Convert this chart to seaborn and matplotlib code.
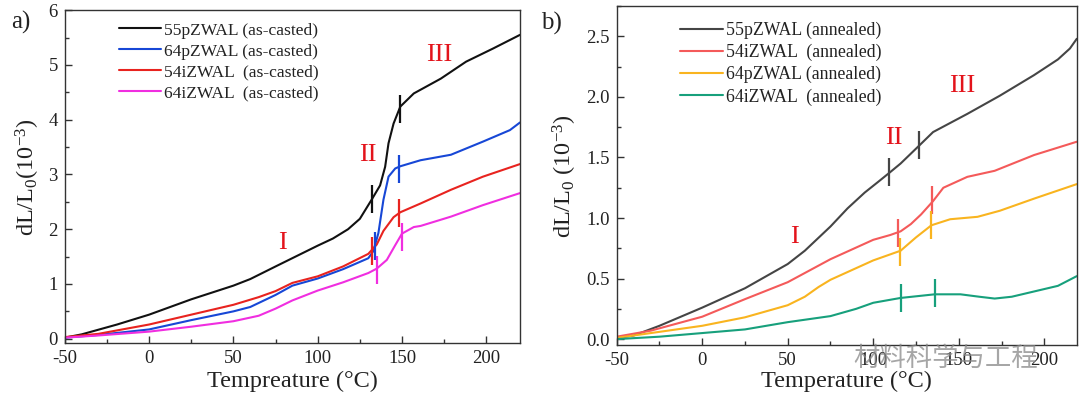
import numpy as np
import pandas as pd
import matplotlib
matplotlib.use("Agg")
import matplotlib.pyplot as plt
from matplotlib.ticker import MultipleLocator, FormatStrFormatter
import seaborn as sns

# ---------------- data: panel a (as-casted) ----------------
a_55p_T = [-50, -40, -19, 0, 25, 50, 60, 75, 100, 109, 118, 125, 132, 137, 140, 142, 145, 149, 157, 173, 188, 204, 220]
a_55p_v = [0.02, 0.08, 0.26, 0.44, 0.72, 0.97, 1.09, 1.32, 1.70, 1.83, 2.0, 2.19, 2.54, 2.80, 3.14, 3.57, 3.93, 4.24, 4.48, 4.75, 5.06, 5.30, 5.55]

a_64p_T = [-50, -30, 0, 25, 50, 60, 75, 85, 100, 115, 130, 133, 136, 139, 142, 146, 149, 161, 179, 198, 214, 220]
a_64p_v = [0.02, 0.07, 0.17, 0.34, 0.50, 0.58, 0.80, 0.97, 1.10, 1.27, 1.47, 1.60, 1.93, 2.54, 2.96, 3.11, 3.15, 3.26, 3.36, 3.60, 3.81, 3.95]

a_54i_T = [-50, -30, 0, 25, 50, 65, 75, 85, 100, 115, 130, 135, 139, 145, 149, 161, 179, 198, 220]
a_54i_v = [0.03, 0.09, 0.26, 0.44, 0.62, 0.76, 0.87, 1.02, 1.14, 1.32, 1.55, 1.72, 1.97, 2.22, 2.31, 2.47, 2.72, 2.96, 3.19]

a_64i_T = [-50, -30, 0, 25, 50, 65, 75, 85, 100, 115, 130, 135, 141, 146, 150, 157, 161, 179, 198, 220]
a_64i_v = [0.02, 0.06, 0.13, 0.22, 0.32, 0.42, 0.55, 0.70, 0.88, 1.03, 1.20, 1.28, 1.44, 1.71, 1.92, 2.04, 2.06, 2.23, 2.44, 2.66]

a_labels = ["55pZWAL (as-casted)", "64pZWAL (as-casted)", "54iZWAL  (as-casted)", "64iZWAL  (as-casted)"]
a_colors = ["#111111", "#1747d6", "#e8231f", "#f02ee0"]

# transition marks (T, value) per series, panel a
a_marks_T = [[132, 149], [134, 148], [132, 148], [135, 150]]
a_marks_v = [[2.55, 4.20], [1.70, 3.10], [1.60, 2.30], [1.25, 1.85]]

# ---------------- data: panel b (annealed) ----------------
b_55p_T = [-50, -40, -25, 0, 25, 50, 60, 75, 85, 95, 103, 110, 116, 127, 135, 155, 174, 194, 208, 215, 219]
b_55p_v = [0.01, 0.03, 0.11, 0.26, 0.42, 0.62, 0.73, 0.93, 1.08, 1.21, 1.30, 1.38, 1.45, 1.60, 1.71, 1.86, 2.01, 2.18, 2.31, 2.40, 2.48]

b_54i_T = [-50, -30, 0, 25, 50, 75, 100, 110, 116, 122, 128, 135, 141, 155, 171, 194, 219]
b_54i_v = [0.02, 0.07, 0.185, 0.33, 0.47, 0.66, 0.82, 0.86, 0.89, 0.95, 1.03, 1.14, 1.25, 1.34, 1.39, 1.52, 1.63]

b_64p_T = [-50, -30, 0, 25, 50, 60, 68, 75, 100, 116, 125, 134, 145, 161, 174, 194, 219]
b_64p_v = [0.01, 0.05, 0.11, 0.18, 0.28, 0.35, 0.43, 0.49, 0.65, 0.73, 0.84, 0.94, 0.99, 1.01, 1.06, 1.16, 1.28]

b_64i_T = [-50, -25, 0, 25, 50, 75, 90, 100, 116, 136, 151, 162, 171, 181, 190, 208, 219]
b_64i_v = [0.0, 0.02, 0.05, 0.08, 0.14, 0.19, 0.25, 0.30, 0.34, 0.37, 0.37, 0.35, 0.335, 0.35, 0.38, 0.44, 0.52]

b_labels = ["55pZWAL (annealed)", "54iZWAL  (annealed)", "64pZWAL (annealed)", "64iZWAL  (annealed)"]
b_colors = ["#454545", "#f45a5a", "#f9b41f", "#17a07c"]

b_marks_T = [[109, 127], [114.5, 134.5], [115.5, 133.5], [116, 136]]
b_marks_v = [[1.38, 1.60], [0.88, 1.15], [0.72, 0.94], [0.34, 0.38]]

region_labels = ["I", "II", "III"]
a_region_T = [79, 130, 172]
a_region_v = [1.75, 3.36, 5.18]
b_region_T = [54, 112, 152]
b_region_v = [0.84, 1.66, 2.09]

# ---------------- style ----------------
sns.set_style("ticks")
plt.rcParams["font.family"] = ["Liberation Serif", "Noto Sans CJK SC", "DejaVu Sans"]
plt.rcParams["mathtext.default"] = "regular"
plt.rcParams["axes.unicode_minus"] = False
plt.rcParams["xtick.direction"] = "in"
plt.rcParams["ytick.direction"] = "in"

fig = plt.figure(figsize=(10.8, 4.08), dpi=100)
axA = fig.add_axes([0.060, 0.159, 0.4215, 0.816])
axB = fig.add_axes([0.571, 0.154, 0.426, 0.831])


def draw_panel(ax, Ts, Vs, labels, colors, mT, mV):
    for T, V, lab, col in zip(Ts, Vs, labels, colors):
        df = pd.DataFrame({"T": T, "v": V})
        sns.lineplot(data=df, x="T", y="v", ax=ax, color=col, lw=1.5, label=lab,
                     sort=False, estimator=None)
    for t, v, col in zip(mT, mV, colors):
        ax.plot(t, v, ls="none", marker="|", ms=20, mew=1.6, color=col)


draw_panel(axA, [a_55p_T, a_64p_T, a_54i_T, a_64i_T], [a_55p_v, a_64p_v, a_54i_v, a_64i_v],
           a_labels, a_colors, a_marks_T, a_marks_v)
draw_panel(axB, [b_55p_T, b_54i_T, b_64p_T, b_64i_T], [b_55p_v, b_54i_v, b_64p_v, b_64i_v],
           b_labels, b_colors, b_marks_T, b_marks_v)

for ax, rT, rV in [(axA, a_region_T, a_region_v), (axB, b_region_T, b_region_v)]:
    for lab, t, v in zip(region_labels, rT, rV):
        ax.text(t, v, lab, color="#e3131b", fontsize=19, ha="center", va="center")

axA.set_xlim(-50, 220)
axA.set_ylim(-0.08, 6)
axA.xaxis.set_major_locator(MultipleLocator(50))
axA.xaxis.set_minor_locator(MultipleLocator(25))
axA.yaxis.set_major_locator(MultipleLocator(1))
axA.yaxis.set_minor_locator(MultipleLocator(0.5))
axA.set_xlabel("Tempreature (°C)", fontsize=17.5, labelpad=3)
axA.set_ylabel("dL/L$_0$(10$^{-3}$)", fontsize=17.5, labelpad=5)

axB.set_xlim(-50, 219)
axB.set_ylim(-0.05, 2.75)
axB.xaxis.set_major_locator(MultipleLocator(50))
axB.xaxis.set_minor_locator(MultipleLocator(25))
axB.yaxis.set_major_locator(MultipleLocator(0.5))
axB.yaxis.set_minor_locator(MultipleLocator(0.25))
axB.yaxis.set_major_formatter(FormatStrFormatter("%.1f"))
axB.set_xlabel("Temperature (°C)", fontsize=17.5, labelpad=1)
axB.set_ylabel("dL/L$_0$ (10$^{-3}$)", fontsize=17.5, labelpad=5)

for ax in (axA, axB):
    for sp in ax.spines.values():
        sp.set_visible(True)
        sp.set_color("#333333")
        sp.set_linewidth(1.0)
    ax.tick_params(which="major", length=5, width=1, labelsize=13.5, colors="#333333",
                   labelcolor="#222222", pad=5)
    ax.tick_params(which="minor", length=3, width=1, colors="#333333")
    ax.xaxis.label.set_color("#222222")
    ax.yaxis.label.set_color("#222222")

legA = axA.legend(loc="upper left", bbox_to_anchor=(0.095, 0.995), frameon=False, fontsize=12.6,
                  handlelength=2.4, handletextpad=0.2, labelspacing=0.27, borderaxespad=0.2)
legB = axB.legend(loc="upper left", bbox_to_anchor=(0.115, 0.985), frameon=False, fontsize=12.8,
                  handlelength=2.4, handletextpad=0.2, labelspacing=0.27, borderaxespad=0.2)
for leg in (legA, legB):
    for line in leg.get_lines():
        line.set_linewidth(1.5)
    for txt in leg.get_texts():
        txt.set_color("#222222")

fig.text(0.019, 0.945, "a)", fontsize=18, ha="center", va="center", color="#222222")
fig.text(0.511, 0.943, "b)", fontsize=18, ha="center", va="center", color="#222222")

# watermark
fig.text(0.876, 0.122, "材料科学与工程", fontsize=19, ha="center", va="center",
         color="#888888", alpha=0.75, family=["Noto Sans CJK SC", "DejaVu Sans"])

fig.savefig("out.png", dpi=100)
